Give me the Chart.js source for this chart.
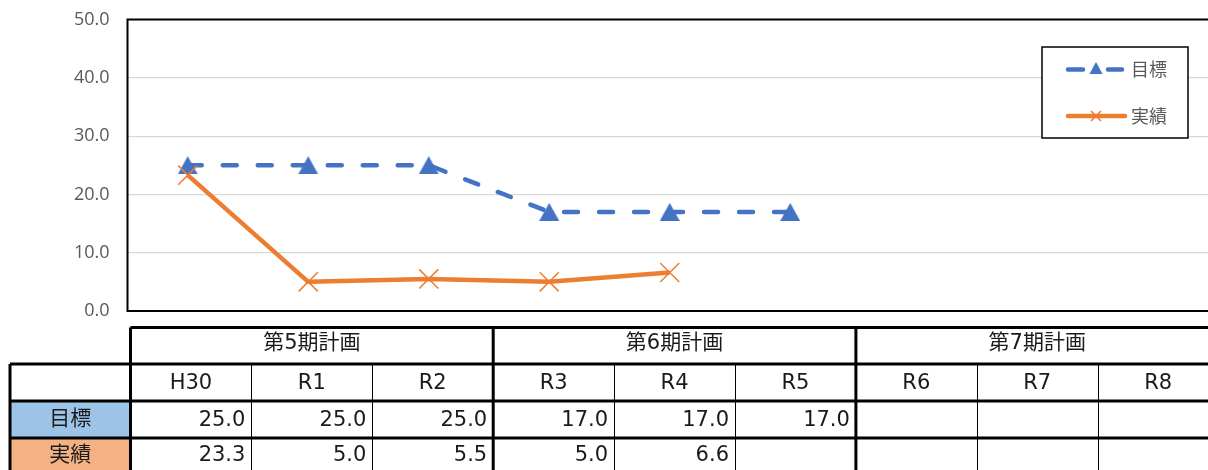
<!DOCTYPE html>
<html>
<head>
<meta charset="utf-8">
<script src="https://cdn.jsdelivr.net/npm/chart.js@4/dist/chart.umd.min.js"></script>
<style>
  html, body { margin: 0; padding: 0; background: #fff; overflow: hidden; }
  #wrap { width: 1240px; height: 470px; }
</style>
</head>
<body>
<div id="wrap"><canvas id="chart" width="1240" height="470"></canvas></div>
<script>
// 年度と計画期間
const years = ['H30', 'R1', 'R2', 'R3', 'R4', 'R5', 'R6', 'R7', 'R8'];
const periods = ['第5期計画', '第6期計画', '第7期計画'];
const periodSpan = [3, 3, 3];

// 目標と実績
const targetValues = [25.0, 25.0, 25.0, 17.0, 17.0, 17.0, null, null, null];
const actualValues = [23.3, 5.0, 5.5, 5.0, 6.6, null, null, null, null];

const yTicks = [0, 10, 20, 30, 40, 50];

const BLUE = '#4472C4';
const ORANGE = '#ED7D31';
const GREY = '#595959';
const CJK = '"Noto Sans CJK JP", sans-serif';
const TABLE_FONT = '21px "DejaVu Sans", "Noto Sans CJK JP", sans-serif';

// 三角マーカー（外接矩形の中心が値の位置に来るように画像で用意）
function triangleImage(w, h) {
    const c = document.createElement('canvas');
    c.width = w; c.height = h;
    const g = c.getContext('2d');
    g.fillStyle = BLUE;
    g.beginPath();
    g.moveTo(w / 2, 0);
    g.lineTo(w, h);
    g.lineTo(0, h);
    g.closePath();
    g.fill();
    return c;
}
const triangle = triangleImage(20, 18);

const fmt = v => (v === null || v === undefined) ? '' : v.toFixed(1);

// 枠線・凡例・データ表
const extras = {
    id: 'extras',
    beforeDatasetsDraw(chart) {
        const { ctx, chartArea: a } = chart;
        ctx.save();
        ctx.strokeStyle = '#000';
        ctx.lineWidth = 2;
        ctx.strokeRect(a.left, a.top, a.right - a.left, a.bottom - a.top);
        ctx.restore();
    },
    afterDraw(chart) {
        const ctx = chart.ctx;
        ctx.save();

        // 凡例
        ctx.fillStyle = '#fff';
        ctx.fillRect(1042, 47, 146, 91);
        ctx.strokeStyle = '#000';
        ctx.lineWidth = 1.5;
        ctx.strokeRect(1042, 47, 146, 91);

        ctx.lineCap = 'round';
        ctx.lineWidth = 4.5;
        ctx.strokeStyle = BLUE;
        ctx.beginPath();
        ctx.moveTo(1068, 69.5); ctx.lineTo(1083, 69.5);
        ctx.moveTo(1108, 69.5); ctx.lineTo(1122, 69.5);
        ctx.stroke();
        ctx.fillStyle = BLUE;
        ctx.beginPath();
        ctx.moveTo(1096, 62); ctx.lineTo(1102.5, 74); ctx.lineTo(1089.5, 74);
        ctx.closePath();
        ctx.fill();

        ctx.strokeStyle = ORANGE;
        ctx.beginPath();
        ctx.moveTo(1068, 116); ctx.lineTo(1125, 116);
        ctx.stroke();
        ctx.lineCap = 'butt';
        ctx.lineWidth = 1.5;
        ctx.beginPath();
        ctx.moveTo(1091, 111); ctx.lineTo(1101, 121);
        ctx.moveTo(1101, 111); ctx.lineTo(1091, 121);
        ctx.stroke();

        ctx.fillStyle = GREY;
        ctx.font = '18px ' + CJK;
        ctx.textAlign = 'left';
        ctx.textBaseline = 'middle';
        ctx.fillText('目標', 1131, 69);
        ctx.fillText('実績', 1131, 116);

        // データ表
        const L = 130.5, W = 120.9, LABEL_L = 10;
        const rows = [327.5, 364, 401, 438, 476];
        const right = L + W * years.length;
        const colX = i => L + W * i;

        ctx.fillStyle = '#9DC3E6';
        ctx.fillRect(LABEL_L, rows[2], L - LABEL_L, rows[3] - rows[2]);
        ctx.fillStyle = '#F4B183';
        ctx.fillRect(LABEL_L, rows[3], L - LABEL_L, rows[4] - rows[3]);

        // 細線（年度の区切り）
        ctx.strokeStyle = '#000';
        ctx.lineWidth = 1;
        ctx.beginPath();
        years.forEach((y, i) => {
            if (i === 0) return;
            ctx.moveTo(Math.round(colX(i)) + 0.5, rows[1]);
            ctx.lineTo(Math.round(colX(i)) + 0.5, rows[4]);
        });
        ctx.stroke();

        // 太線
        ctx.lineWidth = 3;
        ctx.beginPath();
        ctx.moveTo(L, rows[0]); ctx.lineTo(right, rows[0]);
        for (let r = 1; r < 4; r++) {
            ctx.moveTo(LABEL_L, rows[r]); ctx.lineTo(right, rows[r]);
        }
        ctx.moveTo(LABEL_L, rows[1]); ctx.lineTo(LABEL_L, rows[4]);
        let c = 0;
        ctx.moveTo(colX(0), rows[0]); ctx.lineTo(colX(0), rows[4]);
        periodSpan.forEach(n => {
            c += n;
            ctx.moveTo(colX(c), rows[0]); ctx.lineTo(colX(c), rows[4]);
        });
        ctx.stroke();

        ctx.fillStyle = '#1a1a1a';
        ctx.font = TABLE_FONT;
        ctx.textBaseline = 'middle';
        ctx.textAlign = 'center';
        c = 0;
        periods.forEach((p, i) => {
            const x0 = colX(c), x1 = colX(c + periodSpan[i]);
            ctx.fillText(p, (x0 + x1) / 2, (rows[0] + rows[1]) / 2 - 2);
            c += periodSpan[i];
        });
        years.forEach((y, i) => {
            ctx.fillText(y, colX(i) + W / 2, (rows[1] + rows[2]) / 2 + 1);
        });
        ctx.fillText('目標', (LABEL_L + L) / 2, (rows[2] + rows[3]) / 2);
        ctx.fillText('実績', (LABEL_L + L) / 2, (rows[3] + rows[4]) / 2 - 1);

        ctx.textAlign = 'right';
        years.forEach((y, i) => {
            const xr = colX(i + 1) - 6;
            ctx.fillText(fmt(targetValues[i]), xr, (rows[2] + rows[3]) / 2 + 1);
            ctx.fillText(fmt(actualValues[i]), xr, (rows[3] + rows[4]) / 2 - 1);
        });

        ctx.restore();
    }
};

new Chart(document.getElementById('chart'), {
    type: 'line',
    data: {
        labels: years,
        datasets: [
            {
                label: '目標',
                data: targetValues,
                order: 1,
                borderColor: BLUE,
                backgroundColor: BLUE,
                borderWidth: 4.5,
                borderDash: [14, 21],
                borderCapStyle: 'round',
                pointStyle: triangle,
                pointRadius: 10,
                tension: 0,
                fill: false
            },
            {
                label: '実績',
                data: actualValues,
                order: 0,
                borderColor: ORANGE,
                backgroundColor: ORANGE,
                borderWidth: 4.5,
                borderJoinStyle: 'round',
                pointStyle: 'crossRot',
                pointRadius: 13.5,
                pointBorderWidth: 1.5,
                pointBorderColor: ORANGE,
                tension: 0,
                fill: false
            }
        ]
    },
    options: {
        responsive: false,
        animation: false,
        layout: { padding: { left: 0, right: 28, top: 19.5, bottom: 159 } },
        plugins: {
            legend: { display: false },
            tooltip: { enabled: false }
        },
        scales: {
            x: {
                display: false,
                offset: true
            },
            y: {
                min: 0,
                max: 50,
                afterFit(scale) {
                    scale.width = 127.5;
                    scale.paddingTop = 0;
                    scale.paddingBottom = 0;
                },
                afterBuildTicks(scale) { scale.ticks = yTicks.map(v => ({ value: v })); },
                border: { display: false },
                grid: { color: '#D9D9D9', lineWidth: 1.2, drawTicks: false },
                ticks: {
                    padding: 18,
                    color: GREY,
                    font: { family: '"Open Sans", sans-serif', size: 18 },
                    callback: v => Number(v).toFixed(1)
                }
            }
        }
    },
    plugins: [extras]
});
</script>
</body>
</html>
